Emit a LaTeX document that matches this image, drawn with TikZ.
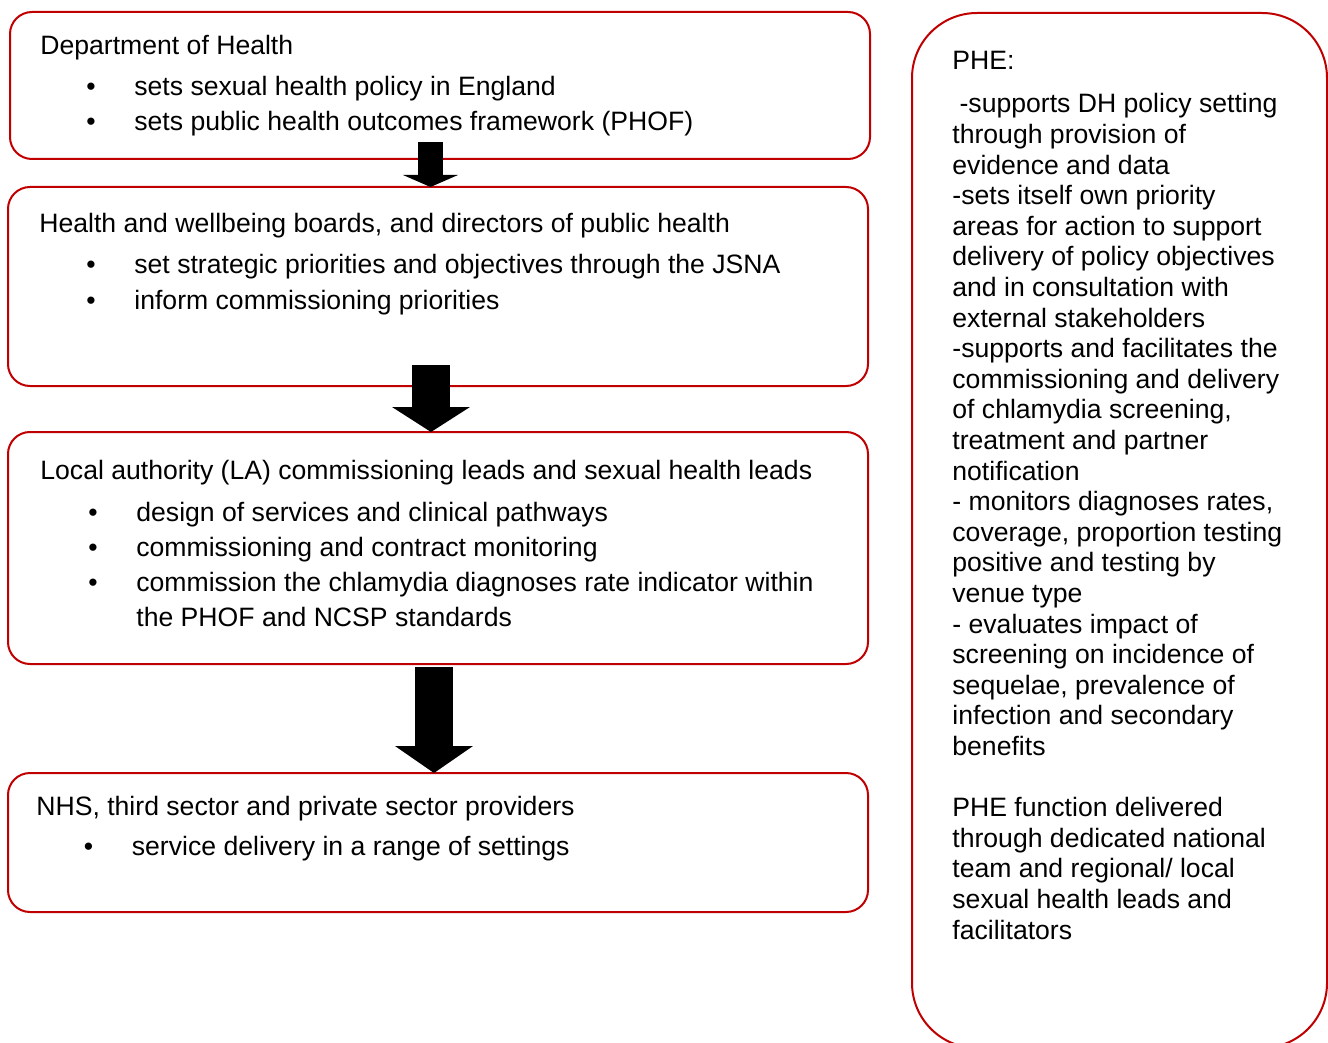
\documentclass[tikz,border=0pt]{standalone}
\usepackage{fontspec}
\setmainfont{Liberation Sans}
\usetikzlibrary{arrows.meta}
\usepackage{xcolor}
\definecolor{phered}{RGB}{192,0,0}

\tikzset{
    box/.style={draw=phered, line width=1pt, rounded corners=11pt, inner sep=0pt, outer sep=0pt},
    txt/.style={anchor=base west, inner sep=0pt, align=left, font=\fontsize{13.3}{17.5}\selectfont},
    phetxt/.style={txt, font=\fontsize{13.3}{15.3}\selectfont},
    blockarrow/.style={line width=#1, black},
}

\begin{document}
\begin{tikzpicture}[x=0.5pt, y=-0.5pt]
        \useasboundingbox (0,0) rectangle (1328,1043);

        % boxes
        \node[box, minimum width=430pt, minimum height=73.5pt] (dh) at (440,85.5) {};
        \node[box, minimum width=430pt, minimum height=99.5pt] (hwb) at (438,286.5) {};
        \node[box, minimum width=430pt, minimum height=116pt] (la) at (438,548) {};
        \node[box, minimum width=430pt, minimum height=69.5pt] (nhs) at (438,842.5) {};
        \node[box, rounded corners=32.5pt, minimum width=207.5pt, minimum height=517.5pt] (phe) at (1119.5,530.5) {};

        % texts (multi-line nodes sit on the baseline of their last line)
        \node[txt] (dhtitle) at (40,55) {Department of Health};
        \node[txt] (dhlist) at (86,131) {\makebox[24pt][l]{•}sets sexual health policy in England\\
            \makebox[24pt][l]{•}sets public health outcomes framework (PHOF)};

        \node[txt] (hwbtitle) at (39,233) {Health and wellbeing boards, and directors of public health};
        \node[txt] (hwblist) at (86,309) {\makebox[24pt][l]{•}set strategic priorities and objectives through the JSNA\\
            \makebox[24pt][l]{•}inform commissioning priorities};

        \node[txt] (latitle) at (40,479) {Local authority (LA) commissioning leads and sexual health leads};
        \node[txt] (lalist) at (88,626) {\makebox[24pt][l]{•}design of services and clinical pathways\\
            \makebox[24pt][l]{•}commissioning and contract monitoring\\
            \makebox[24pt][l]{•}commission the chlamydia diagnoses rate indicator within\\
            \hspace*{24pt}the PHOF and NCSP standards};

        \node[txt] (nhstitle) at (36,815) {NHS, third sector and private sector providers};
        \node[txt] (nhslist) at (83.5,855) {\makebox[24pt][l]{•}service delivery in a range of settings};

        \node[txt] (phetitle) at (952,70) {PHE:};
        \node[phetxt] (phebody) at (952,939) {\hspace*{3.6pt}-supports DH policy setting\\
            through provision of\\
            evidence and data\\
            -sets itself own priority\\
            areas for action to support\\
            delivery of policy objectives\\
            and in consultation with\\
            external stakeholders\\
            -supports and facilitates the\\
            commissioning and delivery\\
            of chlamydia screening,\\
            treatment and partner\\
            notification\\
            - monitors diagnoses rates,\\
            coverage, proportion testing\\
            positive and testing by\\
            venue type\\
            - evaluates impact of\\
            screening on incidence of\\
            sequelae, prevalence of\\
            infection and secondary\\
            benefits\\[15.3pt]
            PHE function delivered\\
            through dedicated national\\
            team and regional/ local\\
            sexual health leads and\\
            facilitators};

        % arrows
        \coordinate (a1) at (430.5,142);
        \coordinate (a2) at (431,365);
        \coordinate (a3) at (434,667);
        \draw[blockarrow=12.5pt, -{Triangle[length=6pt, width=27.5pt, line width=0pt]}] (a1) -- (a1 |- hwb.north);
        \draw[blockarrow=19pt, -{Triangle[length=12.5pt, width=39pt, line width=0pt]}] (a2) -- (a2 |- la.north);
        \draw[blockarrow=19pt, -{Triangle[length=13.5pt, width=39pt, line width=0pt]}] (a3) -- (a3 |- nhs.north);
    \end{tikzpicture}
\end{document}
